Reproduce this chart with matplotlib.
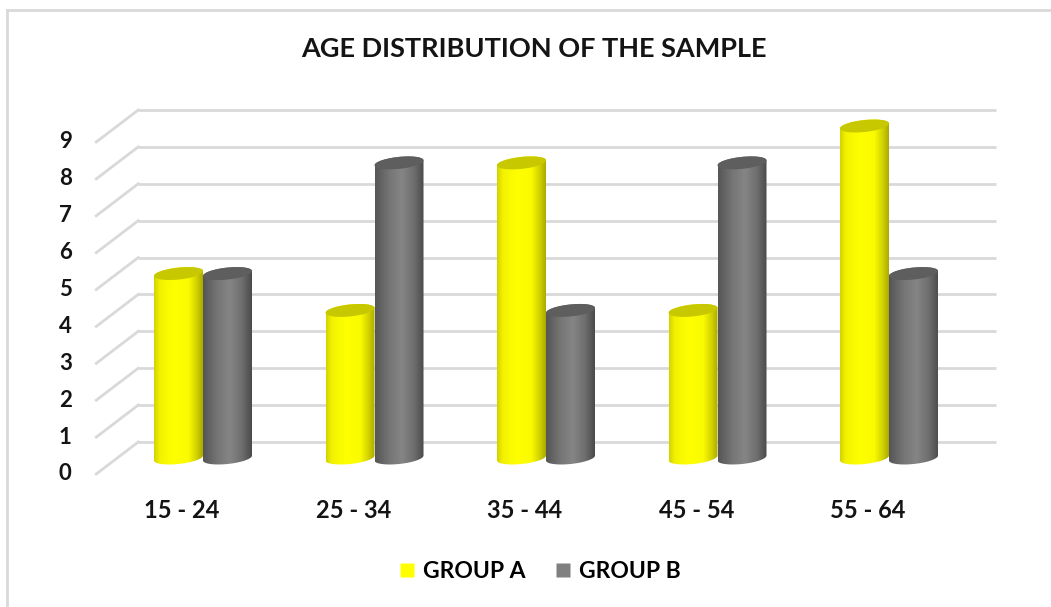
import numpy as np
import matplotlib
matplotlib.use('Agg')
import matplotlib.pyplot as plt
from matplotlib import transforms
from matplotlib.path import Path
from matplotlib.patches import PathPatch, Polygon
from matplotlib.lines import Line2D
from matplotlib.colors import LinearSegmentedColormap

# data
categories = ['15 - 24', '25 - 34', '35 - 44', '45 - 54', '55 - 64']
group_a = [5, 4, 8, 4, 9]
group_b = [5, 8, 4, 8, 5]
series_names = ['GROUP A', 'GROUP B']
y_ticks = list(range(10))

plt.rcParams['font.family'] = ['Lato', 'DejaVu Sans']
plt.rcParams['font.weight'] = 'bold'

W, H = 1051, 607
fig = plt.figure(figsize=(W / 100, H / 100), dpi=100)

# middle plane of the 3d box (where the cylinders stand): value 0 at y=458px, 9 at y=126px
n = len(categories)
x_left, x_right, y_zero, y_nine = 117.25, 974.75, 458, 126
px_x = (x_right - x_left) / n          # pixels per x unit
px_y = (y_zero - y_nine) / 9           # pixels per y unit
ymin, ymax = -1, 10                    # a little room so the round ends are not clipped
ax = fig.add_axes([x_left / W, (H - y_zero - px_y) / H,
                   (x_right - x_left) / W, (ymax - ymin) * px_y / H])
ax.axis('off')

depth_dx, depth_dy = 21, 16            # half depth of the box in pixels
back = transforms.offset_copy(ax.transData, fig=fig, x=depth_dx, y=depth_dy, units='dots')
grid_col = '#d9d9d9'
txt_col = '#141414'

# back wall gridlines + side diagonals
dxu, dyu = depth_dx / px_x, depth_dy / px_y
for v in y_ticks:
    ax.plot([-0.5, n - 0.5], [v, v], transform=back, color=grid_col, lw=2,
            clip_on=False, zorder=1, solid_capstyle='butt')
    ax.plot([-0.5 + dxu, -0.5 - dxu], [v + dyu, v - dyu], color=grid_col, lw=2,
            clip_on=False, zorder=1)

# y tick labels on the front plane
tick_tr = transforms.offset_copy(ax.transData, fig=fig, x=-depth_dx - 31, y=-depth_dy, units='dots')
for v in y_ticks:
    ax.text(-0.5, v, str(v), transform=tick_tr, ha='center', va='center',
            fontsize=16, fontweight='bold', color=txt_col)

# category labels
cat_tr = transforms.offset_copy(ax.transData, fig=fig, x=-depth_dx, y=-depth_dy - 36, units='dots')
for i, c in enumerate(categories):
    ax.text(i, 0, c, transform=cat_tr, ha='center', va='center',
            fontsize=17, fontweight='bold', color=txt_col)

yellow_cmap = LinearSegmentedColormap.from_list(
    'yel', [(0, '#d2d200'), (0.12, '#f2f200'), (0.4, '#ffff00'), (0.7, '#fbfb00'),
            (0.88, '#d0d000'), (1, '#a9a900')])
gray_cmap = LinearSegmentedColormap.from_list(
    'gry', [(0, '#555555'), (0.3, '#767676'), (0.55, '#858585'), (0.8, '#6e6e6e'),
            (1, '#4a4a4a')])
styles = [(yellow_cmap, '#c8c800'), (gray_cmap, '#5e5e5e')]

bar_w = 49 / px_x
ell_b = 6 / px_y
shear = 0.1 * px_x / px_y


def ellipse_xy(xc, yc, t):
    a = bar_w / 2
    x = xc + a * np.cos(t)
    y = yc + ell_b * np.sin(t) + shear * a * np.cos(t)
    return x, y


def cylinder(xc, val, cmap, top_col):
    a = bar_w / 2
    bx, by = ellipse_xy(xc, 0, np.linspace(np.pi, 2 * np.pi, 60))
    tx, ty = ellipse_xy(xc, val, np.linspace(0, np.pi, 60))
    verts = np.column_stack([np.concatenate([bx, tx]), np.concatenate([by, ty])])
    body = PathPatch(Path(verts), transform=ax.transData,
                     facecolor='none', edgecolor='none')
    grad = np.linspace(0, 1, 256).reshape(1, -1)
    im = ax.imshow(grad, cmap=cmap, aspect='auto', interpolation='bilinear',
                   extent=(xc - a, xc + a, -0.8, val + 0.8), zorder=3)
    im.set_clip_path(body)
    ex, ey = ellipse_xy(xc, val, np.linspace(0, 2 * np.pi, 80))
    ax.add_patch(Polygon(np.column_stack([ex, ey]), closed=True, facecolor=top_col,
                         edgecolor='none', zorder=4, clip_on=False))


for i in range(n):
    for s, vals in enumerate([group_a, group_b]):
        xc = i + (s - 0.5) * bar_w
        cylinder(xc, vals[i], *styles[s])

ax.set_xlim(-0.5, n - 0.5)
ax.set_ylim(ymin, ymax)

# title
fig.text(534 / W, 1 - 49 / H, 'AGE DISTRIBUTION OF THE SAMPLE', ha='center', va='center',
         fontsize=19.5, fontweight='bold', color=txt_col)

# legend
handles = [Line2D([], [], marker='s', ls='none', markersize=10, markerfacecolor=c,
                  markeredgecolor='none') for c in ['#ffff00', '#808080']]
fig.legend(handles, series_names, loc='center', bbox_to_anchor=(540 / W, 1 - 572 / H),
           ncol=2, frameon=False, handlelength=0.7, handletextpad=0.35, columnspacing=1.3,
           prop={'size': 16.5, 'weight': 'bold'})

# chart frame (top and left edges visible)
fig.add_artist(Line2D([7 / W, 1], [1 - 10 / H, 1 - 10 / H], transform=fig.transFigure,
                      color=grid_col, lw=2))
fig.add_artist(Line2D([7 / W, 7 / W], [0, 1 - 10 / H], transform=fig.transFigure,
                      color=grid_col, lw=2))

fig.savefig('out.png', dpi=100, facecolor='white')
